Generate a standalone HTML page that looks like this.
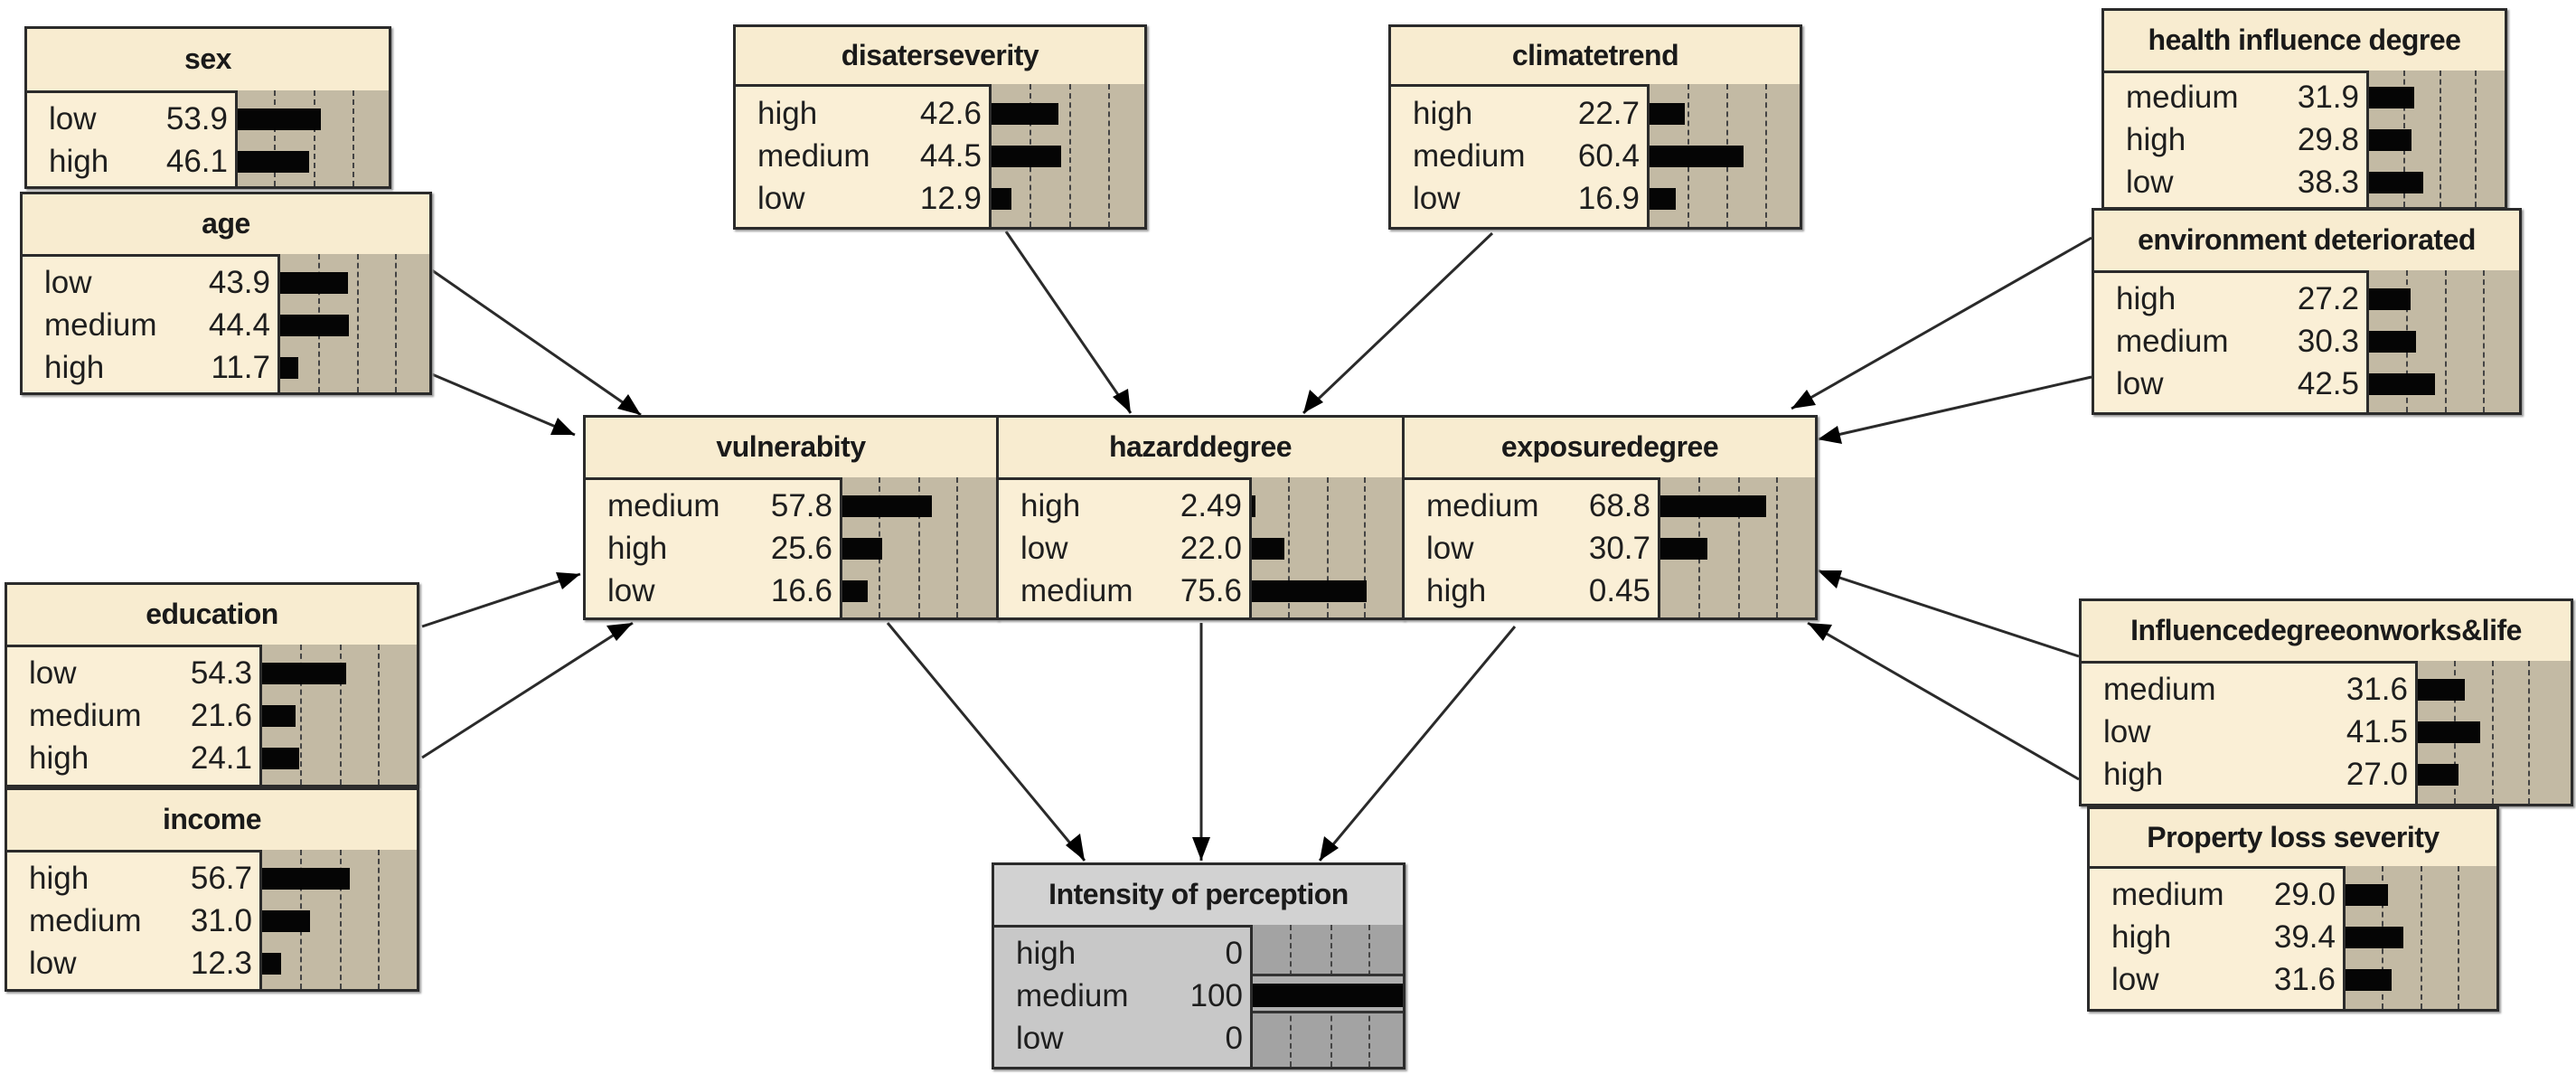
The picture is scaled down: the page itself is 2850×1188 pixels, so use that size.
<!DOCTYPE html>
<html><head><meta charset="utf-8">
<style>
body{margin:0;width:2850px;height:1188px;background:#fff;position:relative;overflow:hidden;font-family:"Liberation Sans",Arial,sans-serif;}
.n{position:absolute;box-sizing:border-box;border:3px solid #2b2b2b;background:#faefd6;box-shadow:2px 2px 2px #999;}
.h{position:absolute;left:0;right:0;top:0;box-sizing:border-box;border-bottom:3px solid #2b2b2b;background:#f8ecd0;text-align:center;font-weight:bold;font-size:32px;color:#1a1a1a;letter-spacing:-0.5px;}
.ba{position:absolute;right:0;bottom:0;background:#c3baa4;border-left:3px solid #2b2b2b;}
.dl{position:absolute;top:0;bottom:0;border-left:2px dashed #444;}
.r{position:absolute;left:0;height:47px;line-height:47px;font-size:35px;color:#1e1e1e;}
.l{position:absolute;left:24px;}
.v{position:absolute;right:8px;}
.bar{position:absolute;height:24px;background:#050505;}
.g{background:#c8c8c8;}
.g .h{background:#d2d2d2;}
.g .ba{background:#a3a3a3;}
svg{position:absolute;left:0;top:0;}
</style></head><body>

<svg width="2850" height="1188">
<defs><marker id="a" markerWidth="10" markerHeight="8" refX="9.5" refY="4" orient="auto" markerUnits="userSpaceOnUse" viewBox="0 0 10 8" style="overflow:visible"><path d="M0,0 L10,4 L0,8 Z" fill="#000" transform="scale(3)" transform-origin="10 4"/></marker></defs>
<g stroke="#2a2a2a" stroke-width="3" fill="none">
<line x1="478" y1="299" x2="709" y2="459"/>
<line x1="478" y1="414" x2="636" y2="481"/>
<line x1="1113" y1="256" x2="1251" y2="457"/>
<line x1="1651" y1="258" x2="1442" y2="457"/>
<line x1="2314" y1="263" x2="1982" y2="452"/>
<line x1="2314" y1="417" x2="2011" y2="486"/>
<line x1="467" y1="693" x2="642" y2="635"/>
<line x1="467" y1="838" x2="700" y2="689"/>
<line x1="2300" y1="726" x2="2011" y2="631"/>
<line x1="2300" y1="862" x2="2000" y2="689"/>
<line x1="982" y1="689" x2="1200" y2="952"/>
<line x1="1329" y1="689" x2="1329" y2="952"/>
<line x1="1676" y1="693" x2="1460" y2="952"/>
</g>
<g fill="#000">
<polygon points="709,459 683,452 695,436"/>
<polygon points="636,481 609,481 617,462"/>
<polygon points="1251,457 1231,439 1248,430"/>
<polygon points="1442,457 1449,431 1464,445"/>
<polygon points="1982,452 1999,431 2009,448"/>
<polygon points="2011,486 2033,471 2038,491"/>
<polygon points="642,635 622,652 615,633"/>
<polygon points="700,689 682,709 671,692"/>
<polygon points="2011,631 2038,631 2032,651"/>
<polygon points="2000,689 2027,691 2017,709"/>
<polygon points="1200,952 1179,935 1195,922"/>
<polygon points="1329,952 1319,926 1339,926"/>
<polygon points="1460,952 1465,925 1481,938"/>
</g>
</svg>

<!-- sex -->
<div class="n" style="left:27px;top:29px;width:406px;height:180px;">
<div class="h" style="height:71px;line-height:66px;">sex</div>
<div class="ba" style="left:230px;top:68px;"><div class="dl" style="left:40px"></div><div class="dl" style="left:84px"></div><div class="dl" style="left:127px"></div></div>
<div class="r" style="top:76px;width:230px"><span class="l">low</span><span class="v">53.9</span></div>
<div class="r" style="top:123px;width:230px"><span class="l">high</span><span class="v">46.1</span></div>
<div class="bar" style="left:233px;top:88px;width:92px"></div>
<div class="bar" style="left:233px;top:135px;width:79px"></div>
</div>

<!-- age -->
<div class="n" style="left:22px;top:212px;width:456px;height:225px;">
<div class="h" style="height:69px;line-height:64px;">age</div>
<div class="ba" style="left:282px;top:66px;"><div class="dl" style="left:42px"></div><div class="dl" style="left:85px"></div><div class="dl" style="left:127px"></div></div>
<div class="r" style="top:74px;width:282px"><span class="l">low</span><span class="v">43.9</span></div>
<div class="r" style="top:121px;width:282px"><span class="l">medium</span><span class="v">44.4</span></div>
<div class="r" style="top:168px;width:282px"><span class="l">high</span><span class="v">11.7</span></div>
<div class="bar" style="left:285px;top:86px;width:75px"></div>
<div class="bar" style="left:285px;top:133px;width:76px"></div>
<div class="bar" style="left:285px;top:180px;width:20px"></div>
</div>

<!-- disaster -->
<div class="n" style="left:811px;top:27px;width:458px;height:227px;">
<div class="h" style="height:66px;line-height:62px;">disaterseverity</div>
<div class="ba" style="left:280px;top:63px;"><div class="dl" style="left:42px"></div><div class="dl" style="left:86px"></div><div class="dl" style="left:129px"></div></div>
<div class="r" style="top:72px;width:280px"><span class="l">high</span><span class="v">42.6</span></div>
<div class="r" style="top:119px;width:280px"><span class="l">medium</span><span class="v">44.5</span></div>
<div class="r" style="top:166px;width:280px"><span class="l">low</span><span class="v">12.9</span></div>
<div class="bar" style="left:283px;top:84px;width:74px"></div>
<div class="bar" style="left:283px;top:131px;width:77px"></div>
<div class="bar" style="left:283px;top:178px;width:22px"></div>
</div>

<!-- climate -->
<div class="n" style="left:1536px;top:27px;width:458px;height:227px;">
<div class="h" style="height:66px;line-height:62px;">climatetrend</div>
<div class="ba" style="left:283px;top:63px;"><div class="dl" style="left:42px"></div><div class="dl" style="left:85px"></div><div class="dl" style="left:128px"></div></div>
<div class="r" style="top:72px;width:283px"><span class="l">high</span><span class="v">22.7</span></div>
<div class="r" style="top:119px;width:283px"><span class="l">medium</span><span class="v">60.4</span></div>
<div class="r" style="top:166px;width:283px"><span class="l">low</span><span class="v">16.9</span></div>
<div class="bar" style="left:286px;top:84px;width:39px"></div>
<div class="bar" style="left:286px;top:131px;width:104px"></div>
<div class="bar" style="left:286px;top:178px;width:29px"></div>
</div>

<!-- health -->
<div class="n" style="left:2325px;top:9px;width:449px;height:223px;">
<div class="h" style="height:69px;line-height:64px;">health influence degree</div>
<div class="ba" style="left:290px;top:66px;"><div class="dl" style="left:38px"></div><div class="dl" style="left:78px"></div><div class="dl" style="left:117px"></div></div>
<div class="r" style="top:72px;width:290px"><span class="l">medium</span><span class="v">31.9</span></div>
<div class="r" style="top:119px;width:290px"><span class="l">high</span><span class="v">29.8</span></div>
<div class="r" style="top:166px;width:290px"><span class="l">low</span><span class="v">38.3</span></div>
<div class="bar" style="left:293px;top:84px;width:50px"></div>
<div class="bar" style="left:293px;top:131px;width:47px"></div>
<div class="bar" style="left:293px;top:178px;width:60px"></div>
</div>

<!-- environment -->
<div class="n" style="left:2314px;top:230px;width:476px;height:229px;">
<div class="h" style="height:69px;line-height:64px;">environment deteriorated</div>
<div class="ba" style="left:301px;top:66px;"><div class="dl" style="left:41px"></div><div class="dl" style="left:84px"></div><div class="dl" style="left:126px"></div></div>
<div class="r" style="top:74px;width:301px"><span class="l">high</span><span class="v">27.2</span></div>
<div class="r" style="top:121px;width:301px"><span class="l">medium</span><span class="v">30.3</span></div>
<div class="r" style="top:168px;width:301px"><span class="l">low</span><span class="v">42.5</span></div>
<div class="bar" style="left:304px;top:86px;width:46px"></div>
<div class="bar" style="left:304px;top:133px;width:52px"></div>
<div class="bar" style="left:304px;top:180px;width:73px"></div>
</div>

<!-- vulnerability -->
<div class="n" style="left:645px;top:459px;width:460px;height:227px;">
<div class="h" style="height:69px;line-height:64px;">vulnerabity</div>
<div class="ba" style="left:281px;top:66px;"><div class="dl" style="left:40px"></div><div class="dl" style="left:84px"></div><div class="dl" style="left:126px"></div></div>
<div class="r" style="top:74px;width:281px"><span class="l">medium</span><span class="v">57.8</span></div>
<div class="r" style="top:121px;width:281px"><span class="l">high</span><span class="v">25.6</span></div>
<div class="r" style="top:168px;width:281px"><span class="l">low</span><span class="v">16.6</span></div>
<div class="bar" style="left:284px;top:86px;width:99px"></div>
<div class="bar" style="left:284px;top:133px;width:44px"></div>
<div class="bar" style="left:284px;top:180px;width:28px"></div>
</div>

<!-- hazard -->
<div class="n" style="left:1102px;top:459px;width:452px;height:227px;">
<div class="h" style="height:69px;line-height:64px;">hazarddegree</div>
<div class="ba" style="left:277px;top:66px;"><div class="dl" style="left:40px"></div><div class="dl" style="left:83px"></div><div class="dl" style="left:124px"></div></div>
<div class="r" style="top:74px;width:277px"><span class="l">high</span><span class="v">2.49</span></div>
<div class="r" style="top:121px;width:277px"><span class="l">low</span><span class="v">22.0</span></div>
<div class="r" style="top:168px;width:277px"><span class="l">medium</span><span class="v">75.6</span></div>
<div class="bar" style="left:280px;top:86px;width:4px"></div>
<div class="bar" style="left:280px;top:133px;width:36px"></div>
<div class="bar" style="left:280px;top:180px;width:127px"></div>
</div>

<!-- exposure -->
<div class="n" style="left:1551px;top:459px;width:460px;height:227px;">
<div class="h" style="height:69px;line-height:64px;">exposuredegree</div>
<div class="ba" style="left:280px;top:66px;"><div class="dl" style="left:42px"></div><div class="dl" style="left:86px"></div><div class="dl" style="left:128px"></div></div>
<div class="r" style="top:74px;width:280px"><span class="l">medium</span><span class="v">68.8</span></div>
<div class="r" style="top:121px;width:280px"><span class="l">low</span><span class="v">30.7</span></div>
<div class="r" style="top:168px;width:280px"><span class="l">high</span><span class="v">0.45</span></div>
<div class="bar" style="left:283px;top:86px;width:117px"></div>
<div class="bar" style="left:283px;top:133px;width:52px"></div>
</div>

<!-- education -->
<div class="n" style="left:5px;top:644px;width:459px;height:227px;">
<div class="h" style="height:69px;line-height:64px;">education</div>
<div class="ba" style="left:279px;top:66px;"><div class="dl" style="left:42px"></div><div class="dl" style="left:86px"></div><div class="dl" style="left:128px"></div></div>
<div class="r" style="top:74px;width:279px"><span class="l">low</span><span class="v">54.3</span></div>
<div class="r" style="top:121px;width:279px"><span class="l">medium</span><span class="v">21.6</span></div>
<div class="r" style="top:168px;width:279px"><span class="l">high</span><span class="v">24.1</span></div>
<div class="bar" style="left:282px;top:86px;width:93px"></div>
<div class="bar" style="left:282px;top:133px;width:37px"></div>
<div class="bar" style="left:282px;top:180px;width:41px"></div>
</div>

<!-- income -->
<div class="n" style="left:5px;top:871px;width:459px;height:226px;">
<div class="h" style="height:69px;line-height:64px;">income</div>
<div class="ba" style="left:279px;top:66px;"><div class="dl" style="left:42px"></div><div class="dl" style="left:86px"></div><div class="dl" style="left:128px"></div></div>
<div class="r" style="top:74px;width:279px"><span class="l">high</span><span class="v">56.7</span></div>
<div class="r" style="top:121px;width:279px"><span class="l">medium</span><span class="v">31.0</span></div>
<div class="r" style="top:168px;width:279px"><span class="l">low</span><span class="v">12.3</span></div>
<div class="bar" style="left:282px;top:86px;width:97px"></div>
<div class="bar" style="left:282px;top:133px;width:53px"></div>
<div class="bar" style="left:282px;top:180px;width:21px"></div>
</div>

<!-- influence -->
<div class="n" style="left:2300px;top:662px;width:547px;height:230px;">
<div class="h" style="height:69px;line-height:64px;">Influencedegreeonworks&amp;life</div>
<div class="ba" style="left:369px;top:66px;"><div class="dl" style="left:40px"></div><div class="dl" style="left:82px"></div><div class="dl" style="left:122px"></div></div>
<div class="r" style="top:74px;width:369px"><span class="l">medium</span><span class="v">31.6</span></div>
<div class="r" style="top:121px;width:369px"><span class="l">low</span><span class="v">41.5</span></div>
<div class="r" style="top:168px;width:369px"><span class="l">high</span><span class="v">27.0</span></div>
<div class="bar" style="left:372px;top:86px;width:52px"></div>
<div class="bar" style="left:372px;top:133px;width:69px"></div>
<div class="bar" style="left:372px;top:180px;width:45px"></div>
</div>

<!-- property -->
<div class="n" style="left:2309px;top:892px;width:456px;height:227px;">
<div class="h" style="height:66px;line-height:62px;">Property loss severity</div>
<div class="ba" style="left:280px;top:63px;"><div class="dl" style="left:40px"></div><div class="dl" style="left:83px"></div><div class="dl" style="left:124px"></div></div>
<div class="r" style="top:71px;width:280px"><span class="l">medium</span><span class="v">29.0</span></div>
<div class="r" style="top:118px;width:280px"><span class="l">high</span><span class="v">39.4</span></div>
<div class="r" style="top:165px;width:280px"><span class="l">low</span><span class="v">31.6</span></div>
<div class="bar" style="left:283px;top:83px;width:47px"></div>
<div class="bar" style="left:283px;top:130px;width:64px"></div>
<div class="bar" style="left:283px;top:177px;width:51px"></div>
</div>

<!-- intensity -->
<div class="n g" style="left:1097px;top:954px;width:458px;height:229px;">
<div class="h" style="height:69px;line-height:64px;">Intensity of perception</div>
<div class="ba" style="left:283px;top:66px;"><div class="dl" style="left:41px"></div><div class="dl" style="left:86px"></div><div class="dl" style="left:128px"></div>
<div style="position:absolute;left:0;right:0;top:54px;height:38px;border-top:3px solid #333;border-bottom:3px solid #333;background:#b0b0b0;"></div></div>
<div class="r" style="top:74px;width:283px"><span class="l">high</span><span class="v">0</span></div>
<div class="r" style="top:121px;width:283px"><span class="l">medium</span><span class="v">100</span></div>
<div class="r" style="top:168px;width:283px"><span class="l">low</span><span class="v">0</span></div>
<div class="bar" style="left:286px;top:131px;width:166px;height:26px"></div>
</div>

</body></html>
